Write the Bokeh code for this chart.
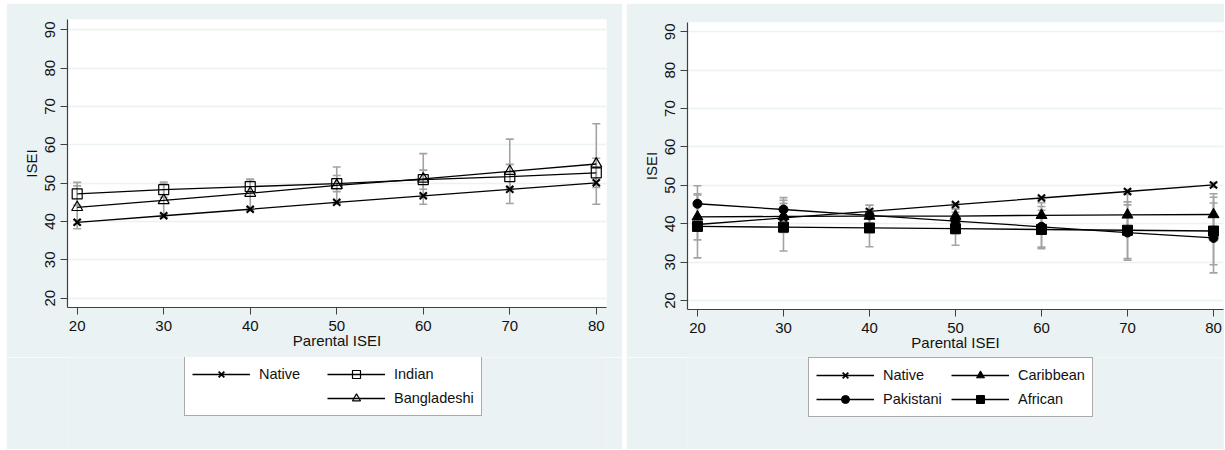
from bokeh.plotting import figure
from bokeh.models import (ColumnDataSource, Whisker, TeeHead, Legend, LegendItem,
                          FixedTicker, Range1d)
from bokeh.layouts import row, column
from bokeh.embed import file_html
from bokeh.resources import INLINE

# ---------------- data ----------------
x_vals = [20, 30, 40, 50, 60, 70, 80]
x_ticks = [20, 30, 40, 50, 60, 70, 80]
y_ticks = [20, 30, 40, 50, 60, 70, 80, 90]
x_label = "Parental ISEI"
y_label = "ISEI"

native = [39.8, 41.5, 43.2, 45.0, 46.7, 48.4, 50.1]
native_ci = [0.6, 0.5, 0.4, 0.4, 0.4, 0.5, 0.6]

indian = [47.2, 48.3, 49.1, 49.9, 50.9, 51.7, 52.7]
indian_ci = [3.0, 2.0, 1.8, 2.1, 2.5, 3.2, 3.8]

bangladeshi = [43.7, 45.5, 47.4, 49.4, 51.1, 53.1, 55.0]
bangladeshi_ci = [5.6, 4.4, 3.7, 4.8, 6.6, 8.4, 10.5]

pakistani = [45.2, 43.7, 42.2, 40.7, 39.2, 37.7, 36.3]
pakistani_ci = [4.7, 3.1, 2.6, 3.3, 5.3, 7.2, 9.1]

caribbean = [41.8, 41.9, 42.0, 42.0, 42.2, 42.3, 42.4]
caribbean_ci = [6.0, 4.2, 2.8, 1.8, 3.3, 5.3, 5.4]

african = [39.3, 39.1, 38.9, 38.7, 38.5, 38.3, 38.1]
african_ci = [8.2, 6.2, 4.9, 4.3, 5.0, 7.4, 8.8]

# ---------------- style ----------------
BG = "#eaf2f3"
FONT = "Liberation Sans"
TXT = "#111111"
AXC = "#404040"
ERR = "#a3a3a3"


def make_fig(xr, yr, fw, fh, mbl, mbr, mbt, mbb):
    p = figure(frame_width=fw, frame_height=fh,
               x_range=Range1d(*xr), y_range=Range1d(*yr),
               output_backend="svg", toolbar_location=None,
               min_border_left=mbl, min_border_right=mbr,
               min_border_top=mbt, min_border_bottom=mbb)
    p.border_fill_color = BG
    p.background_fill_color = "white"
    p.outline_line_color = None
    p.xgrid.visible = False
    p.ygrid.grid_line_color = BG
    p.ygrid.grid_line_width = 1.5
    p.ygrid.ticker = FixedTicker(ticks=y_ticks)

    for ax, ticks in ((p.xaxis, x_ticks), (p.yaxis, y_ticks)):
        ax.ticker = FixedTicker(ticks=ticks, minor_ticks=[])
        ax.axis_line_color = AXC
        ax.axis_line_width = 1.2
        ax.major_tick_line_color = AXC
        ax.major_tick_line_width = 1
        ax.major_tick_in = 0
        ax.major_tick_out = 7
        ax.minor_tick_line_color = None
        ax.major_label_text_font = FONT
        ax.major_label_text_font_size = "15px"
        ax.major_label_text_color = TXT
        ax.axis_label_text_font = FONT
        ax.axis_label_text_font_size = "15px"
        ax.axis_label_text_font_style = "normal"
        ax.axis_label_text_color = TXT
    p.xaxis.major_label_standoff = 6
    p.xaxis.axis_label = x_label
    p.xaxis.axis_label_standoff = -2
    p.yaxis.major_label_standoff = 5
    p.yaxis.axis_label = y_label
    p.yaxis.axis_label_standoff = 3
    p.yaxis.major_label_orientation = "vertical"
    return p


def make_legend_fig(width, height):
    q = figure(width=width, height=height, x_range=Range1d(-10, -9),
               y_range=Range1d(0, 1), x_axis_type=None, y_axis_type=None,
               output_backend="svg", toolbar_location=None, min_border=0)
    q.background_fill_color = BG
    q.border_fill_color = BG
    q.outline_line_color = None
    return q


def add_series(p, vals, ci):
    lower = [v - c for v, c in zip(vals, ci)]
    upper = [v + c for v, c in zip(vals, ci)]
    src = ColumnDataSource(dict(x=x_vals, y=vals, lower=lower, upper=upper))
    w = Whisker(base="x", lower="lower", upper="upper", source=src,
                line_color=ERR, line_width=1.6,
                upper_head=TeeHead(size=8, line_color=ERR, line_width=1.6),
                lower_head=TeeHead(size=8, line_color=ERR, line_width=1.6))
    p.add_layout(w)
    return src


def draw(p, src, marker, size, fill, lw_m):
    ln = p.line("x", "y", source=src, line_color="black", line_width=1.3)
    sc = p.scatter("x", "y", source=src, marker=marker, size=size,
                   line_color="black", line_width=lw_m, fill_color=fill)
    return [ln, sc]


def make_legend(items, loc):
    return Legend(items=items, orientation="vertical", nrows=2,
                  location=loc, glyph_width=58, glyph_height=20,
                  label_height=20, label_width=64, label_standoff=9, spacing=4,
                  padding=7, margin=0, border_line_color="#555555",
                  border_line_width=1, background_fill_color="white",
                  background_fill_alpha=1.0, label_text_font=FONT,
                  label_text_font_size="14.5px", label_text_color=TXT)


# ---------------- left panel ----------------
p1 = make_fig((18.88, 81.18), (17.57, 92.69), 539, 288, 61, 16, 16, 50)
s_nat1 = add_series(p1, native, native_ci)
s_ind = add_series(p1, indian, indian_ci)
s_ban = add_series(p1, bangladeshi, bangladeshi_ci)
draw(p1, s_nat1, "x", 10, None, 2)
draw(p1, s_ind, "square", 10, None, 1.2)
draw(p1, s_ban, "triangle", 11, None, 1.2)

l1 = make_legend_fig(616, 92)
k_nat1 = draw(l1, s_nat1, "x", 8, None, 1.8)
k_ind = draw(l1, s_ind, "square", 8, None, 1.2)
k_ban = draw(l1, s_ban, "triangle", 8, None, 1.2)
blank = l1.line("x", "y", source=s_nat1, line_alpha=0)
l1.add_layout(make_legend([
    LegendItem(label="Native", renderers=k_nat1),
    LegendItem(label=" ", renderers=[blank]),
    LegendItem(label="Indian", renderers=k_ind),
    LegendItem(label="Bangladeshi", renderers=k_ban),
], (117, 33)))

# ---------------- right panel ----------------
p2 = make_fig((18.84, 81.16), (17.65, 92.43), 536, 287, 61, 1, 19, 48)
s_nat2 = add_series(p2, native, native_ci)
s_pak = add_series(p2, pakistani, pakistani_ci)
s_car = add_series(p2, caribbean, caribbean_ci)
s_afr = add_series(p2, african, african_ci)
draw(p2, s_nat2, "x", 10, None, 2)
draw(p2, s_pak, "circle", 9, "black", 1)
draw(p2, s_car, "triangle", 11, "black", 1)
draw(p2, s_afr, "square", 10, "black", 1)

l2 = make_legend_fig(598, 92)
k_nat2 = draw(l2, s_nat2, "x", 8, None, 1.8)
k_pak = draw(l2, s_pak, "circle", 7, "black", 1)
k_car = draw(l2, s_car, "triangle", 8, "black", 1)
k_afr = draw(l2, s_afr, "square", 8, "black", 1)
l2.add_layout(make_legend([
    LegendItem(label="Native", renderers=k_nat2),
    LegendItem(label="Pakistani", renderers=k_pak),
    LegendItem(label="Caribbean", renderers=k_car),
    LegendItem(label="African", renderers=k_afr),
], (121, 32)))

layout = row(column(p1, l1), column(p2, l2), spacing=4, margin=(3, 0, 0, 6))
open("out.html", "w").write(file_html(layout, INLINE))
